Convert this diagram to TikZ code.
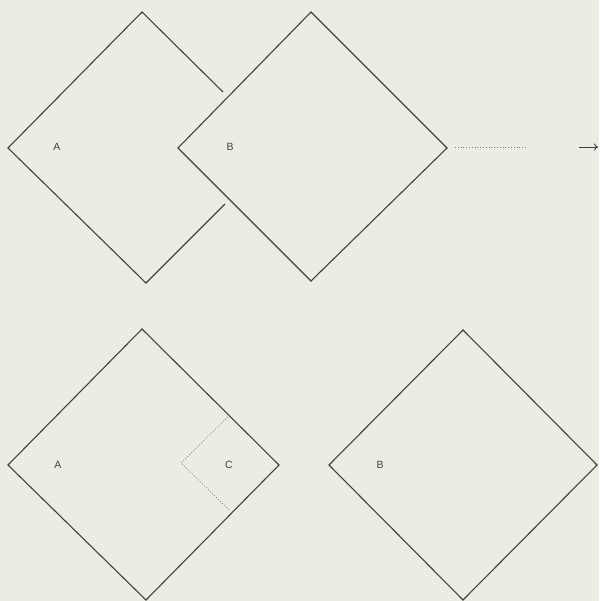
\documentclass[tikz,border=0pt]{standalone}
\usepackage{fontspec}
\setmainfont{Liberation Sans}
\usetikzlibrary{arrows.meta, positioning}
\definecolor{paper}{RGB}{236,236,226}
\definecolor{ink}{RGB}{66,66,60}
\tikzset{
  edge/.style={draw=ink, line width=1.1pt, line join=miter},
  hidden/.style={draw=ink!70, line width=0.8pt, dotted},
  lbl/.style={text=ink, font=\fontsize{10.5}{12}\selectfont, inner sep=0pt}
}
\begin{document}
\begin{tikzpicture}[x=1pt, y=-1pt]
        \fill[paper] (0,0) rectangle (599,601);
        \useasboundingbox (0,0) rectangle (599,601);
        % top: A partly behind B
        \draw[edge] (223,92) -- (142,12) -- (8,148) -- (146,283) -- (225,204);
        \draw[edge] (311,12) -- (447,148) -- (311,281) -- (178,148) -- cycle;
        \node[lbl] (a1) at (57,147) {A};
        \node[lbl] (b1) at (230,147) {B};
        % motion of B
        \coordinate (bright) at (455,147);
        \coordinate (dotend) at (527,147);
        \coordinate (arrbeg) at (579,147);
        \coordinate (arrend) at (598,147);
        \draw[hidden] (bright) -- (dotend);
        \draw[edge, line width=0.9pt, -{To[length=4pt, width=7pt]}] (arrbeg) -- (arrend);
        % bottom: A with C cut out, B apart
        \draw[edge] (142,329) -- (279,465) -- (146,600) -- (8,465) -- cycle;
        \draw[hidden] (228,417) -- (181,463) -- (230,511);
        \draw[edge] (463,330) -- (597,465) -- (463,600) -- (329,465) -- cycle;
        \node[lbl] (a2) at (58,465) {A};
        \node[lbl] (c2) at (229,465) {C};
        \node[lbl] (b2) at (380,465) {B};
    \end{tikzpicture}
\end{document}
